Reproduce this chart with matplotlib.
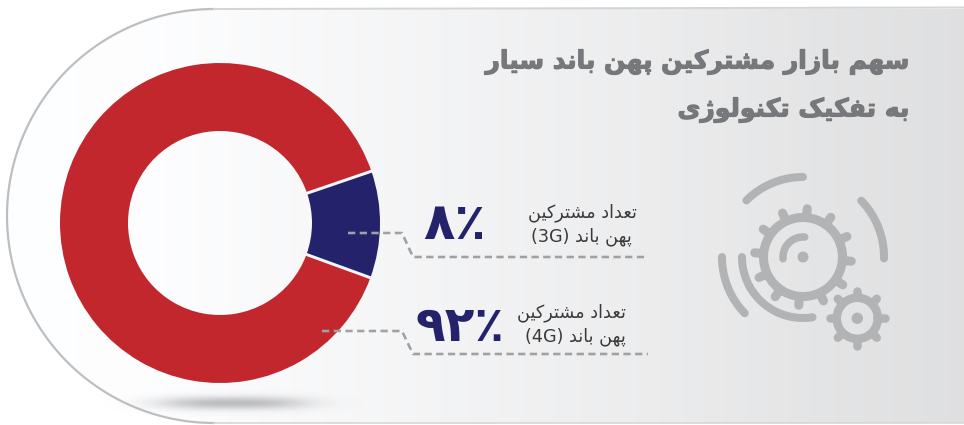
from __future__ import annotations

import matplotlib

matplotlib.use("Agg")

import matplotlib.patheffects as path_effects
import matplotlib.pyplot as plt
import numpy as np
from matplotlib.patches import Circle, PathPatch
from matplotlib.path import Path

WIDTH, HEIGHT = 964, 425

TITLE_LINES = ["سهم بازار مشترکین پهن باند سیار", "به تفکیک تکنولوژی"]
SERIES_NAMES = ["3G", "4G"]
PERCENT_LABELS = ["۸٪", "۹۲٪"]
LABEL_FIRST_LINE = "تعداد مشترکین"
LABEL_SECOND_LINE = ["پهن باند (3G)", "پهن باند (4G)"]
# the drawn arc in the picture is wider than its 8% label, so keep the measured sweep
SLICE_SHARES = [10.8, 89.2]
SLICE_COLORS = ["#24226a", "#c1272d"]

GRADIENT_STOPS_X = [0, 150, 400, 650, 820, 964]
GRADIENT_STOPS_GRAY = [254, 253, 245, 236, 228, 223]

# isolated, final, initial, medial
FORMS = {
    "ا": "\ufe8d\ufe8e",
    "د": "\ufea9\ufeaa",
    "ر": "\ufead\ufeae",
    "ز": "\ufeaf\ufeb0",
    "ژ": "\ufb8a\ufb8b",
    "و": "\ufeed\ufeee",
    "ب": "\ufe8f\ufe90\ufe91\ufe92",
    "پ": "\ufb56\ufb57\ufb58\ufb59",
    "ت": "\ufe95\ufe96\ufe97\ufe98",
    "س": "\ufeb1\ufeb2\ufeb3\ufeb4",
    "ش": "\ufeb5\ufeb6\ufeb7\ufeb8",
    "ع": "\ufec9\ufeca\ufecb\ufecc",
    "ف": "\ufed1\ufed2\ufed3\ufed4",
    "ک": "\ufb8e\ufb8f\ufb90\ufb91",
    "ل": "\ufedd\ufede\ufedf\ufee0",
    "م": "\ufee1\ufee2\ufee3\ufee4",
    "ن": "\ufee5\ufee6\ufee7\ufee8",
    "ه": "\ufee9\ufeea\ufeeb\ufeec",
    "ی": "\ufbfc\ufbfd\ufbfe\ufbff",
}


def shape_word(word: str) -> str:
    if not any(ch in FORMS for ch in word):
        return word
    out = []
    for i, ch in enumerate(word):
        forms = FORMS[ch]
        joins_prev = i > 0 and len(FORMS[word[i - 1]]) == 4
        joins_next = i < len(word) - 1 and len(forms) == 4
        if joins_prev and joins_next:
            out.append(forms[3])
        elif joins_next:
            out.append(forms[2])
        elif joins_prev:
            out.append(forms[1])
        else:
            out.append(forms[0])
    return "".join(reversed(out))


def shape_rtl(text: str) -> str:
    """matplotlib has no bidi or shaping, so lay the words out in visual order."""
    return " ".join(shape_word(word) for word in reversed(text.split(" ")))


def px(value: float) -> float:
    return value * 72 / 100


def draw_background(ax) -> None:
    cx, cy, r = 214, 216, 207
    theta = np.linspace(np.pi / 2, 3 * np.pi / 2, 200)
    arc_x = cx + r * np.cos(theta)
    arc_y = cy - r * np.sin(theta)
    verts = np.column_stack([arc_x, arc_y])
    verts = np.vstack([[WIDTH + 2, cy - r], verts, [WIDTH + 2, cy + r], [WIDTH + 2, cy - r]])
    outline = Path(verts, closed=True)

    gray = np.interp(np.arange(WIDTH), GRADIENT_STOPS_X, GRADIENT_STOPS_GRAY) / 255
    rgb = np.dstack([gray, gray + 0.002, gray + 0.006]).clip(0, 1)
    image = ax.imshow(rgb, extent=(0, WIDTH, HEIGHT, 0), aspect="auto", zorder=1)
    patch = PathPatch(outline, transform=ax.transData, fc="none", ec="none")
    ax.add_patch(patch)
    image.set_clip_path(patch)

    # soft shadow below the ring
    yy, xx = np.mgrid[385:421:72j, 90:376:286j]
    alpha = np.exp(-(np.abs((xx - 233) / 74) ** 2.8) - ((yy - 403) / 6.5) ** 2) * 0.62
    shadow = np.zeros((*alpha.shape, 4))
    shadow[..., :3] = np.array([150, 152, 155]) / 255
    shadow[..., 3] = alpha
    ax.imshow(shadow, extent=(90, 376, 421, 385), aspect="auto", zorder=2)

    ax.plot(arc_x, arc_y, color="#bcbec0", lw=px(2.2), zorder=3)
    ax.plot([cx, WIDTH], [cy - r, cy - r - 1.5], color="#d4d5d7", lw=px(2), zorder=3)
    ax.plot([cx, WIDTH], [cy + r, cy + r], color="#d4d5d7", lw=px(1.6), zorder=3)
    ax.set_xlim(0, WIDTH)
    ax.set_ylim(HEIGHT, 0)


def draw_donut(fig) -> None:
    cx, cy, half = 220, 223, 170
    start = -20
    pie_ax = fig.add_axes(
        [(cx - half) / WIDTH, 1 - (cy + half) / HEIGHT, 2 * half / WIDTH, 2 * half / HEIGHT]
    )
    pie_ax.patch.set_alpha(0)
    pie_ax.pie(
        SLICE_SHARES,
        colors=SLICE_COLORS,
        startangle=start,
        radius=160,
        wedgeprops={"width": 68},
    )
    # pale gaps on both sides of the small slice
    for angle in [start, start + SLICE_SHARES[0] * 3.6]:
        a = np.radians(angle)
        pie_ax.plot(
            [88 * np.cos(a), 163 * np.cos(a)],
            [88 * np.sin(a), 163 * np.sin(a)],
            color="#f3f5f9",
            lw=px(3),
            solid_capstyle="butt",
        )
    pie_ax.set_xlim(-half, half)
    pie_ax.set_ylim(-half, half)
    pie_ax.axis("off")


def circle_line(ax, cx, cy, r, start, end, lw, color, zorder=5) -> None:
    angles = np.radians(np.linspace(start, end, 80))
    ax.plot(
        cx + r * np.cos(angles),
        cy - r * np.sin(angles),
        color=color,
        lw=px(lw),
        solid_capstyle="round",
        zorder=zorder,
    )


def draw_gear(ax, cx, cy, ring_r, ring_lw, tooth_in, tooth_out, tooth_lw, tooth_angles, dot_r, color) -> None:
    circle_line(ax, cx, cy, ring_r, 0, 360, ring_lw, color)
    for angle in tooth_angles:
        a = np.radians(angle)
        ax.plot(
            [cx + tooth_in * np.cos(a), cx + tooth_out * np.cos(a)],
            [cy - tooth_in * np.sin(a), cy - tooth_out * np.sin(a)],
            color=color,
            lw=px(tooth_lw),
            solid_capstyle="round",
            zorder=5,
        )
    ax.add_patch(Circle((cx, cy), dot_r, fc=color, ec="none", zorder=5))


def draw_icon(ax) -> None:
    color = "#b1b3b5"
    cx, cy = 803, 257
    draw_gear(ax, cx, cy, 39.5, 9, 42, 48.5, 9, np.arange(85, 445, 30), 5.5, color)
    circle_line(ax, cx, cy, 20, 185, 85, 7.5, color)
    circle_line(ax, cx, cy, 80, 135, 90, 8, color)
    circle_line(ax, cx, cy, 81, 44, -1, 8, color)
    circle_line(ax, cx, cy, 61, 180, 279, 8, color)
    circle_line(ax, cx, cy, 81, 180, 224, 8, color)
    draw_gear(ax, 857.3, 318.3, 20.5, 8.5, 23, 27.5, 8.5, np.arange(0, 360, 45), 5.7, color)


def draw_labels(ax) -> None:
    title_color = "#77787b"
    for line, y in zip(TITLE_LINES, [62, 110]):
        label = ax.text(
            910, y, shape_rtl(line), family="DejaVu Sans", fontweight="bold",
            fontsize=18, color=title_color, ha="right", va="center", zorder=6,
        )
        label.set_path_effects(
            [path_effects.withStroke(linewidth=px(1.2), foreground=title_color)]
        )

    leader = {"color": "#a0a1a3", "lw": px(2.6), "dashes": (2.8, 1.7), "zorder": 6}
    ax.plot([348, 402, 413, 648], [233, 233, 257, 257], **leader)
    ax.plot([322, 402, 413, 648], [331, 331, 354, 354], **leader)

    ax.text(455, 225, PERCENT_LABELS[0], fontweight="bold", fontsize=37, color="#24226a",
            ha="center", va="center", family="DejaVu Sans", zorder=6)
    ax.text(460, 327, PERCENT_LABELS[1], fontweight="bold", fontsize=35, color="#24226a",
            ha="center", va="center", family="DejaVu Sans", zorder=6)

    text_color = "#3a3a3c"
    rows = [(637, 213, 632, 237), (626, 313, 626, 337)]
    for (x1, y1, x2, y2), second in zip(rows, LABEL_SECOND_LINE):
        ax.text(x1, y1, shape_rtl(LABEL_FIRST_LINE), fontsize=12.7, color=text_color,
                ha="right", va="center", family="DejaVu Sans", zorder=6)
        ax.text(x2, y2, shape_rtl(second), fontsize=12.7, color=text_color,
                ha="right", va="center", family="DejaVu Sans", zorder=6)


def main() -> None:
    fig = plt.figure(figsize=(WIDTH / 100, HEIGHT / 100), dpi=100, facecolor="white")
    back = fig.add_axes([0, 0, 1, 1])
    back.axis("off")
    draw_background(back)
    draw_donut(fig)

    over = fig.add_axes([0, 0, 1, 1])
    over.patch.set_alpha(0)
    over.axis("off")
    over.set_xlim(0, WIDTH)
    over.set_ylim(HEIGHT, 0)
    draw_icon(over)
    draw_labels(over)
    over.set_xlim(0, WIDTH)
    over.set_ylim(HEIGHT, 0)

    fig.savefig("out.png", dpi=100)
    plt.close(fig)


if __name__ == "__main__":
    main()
